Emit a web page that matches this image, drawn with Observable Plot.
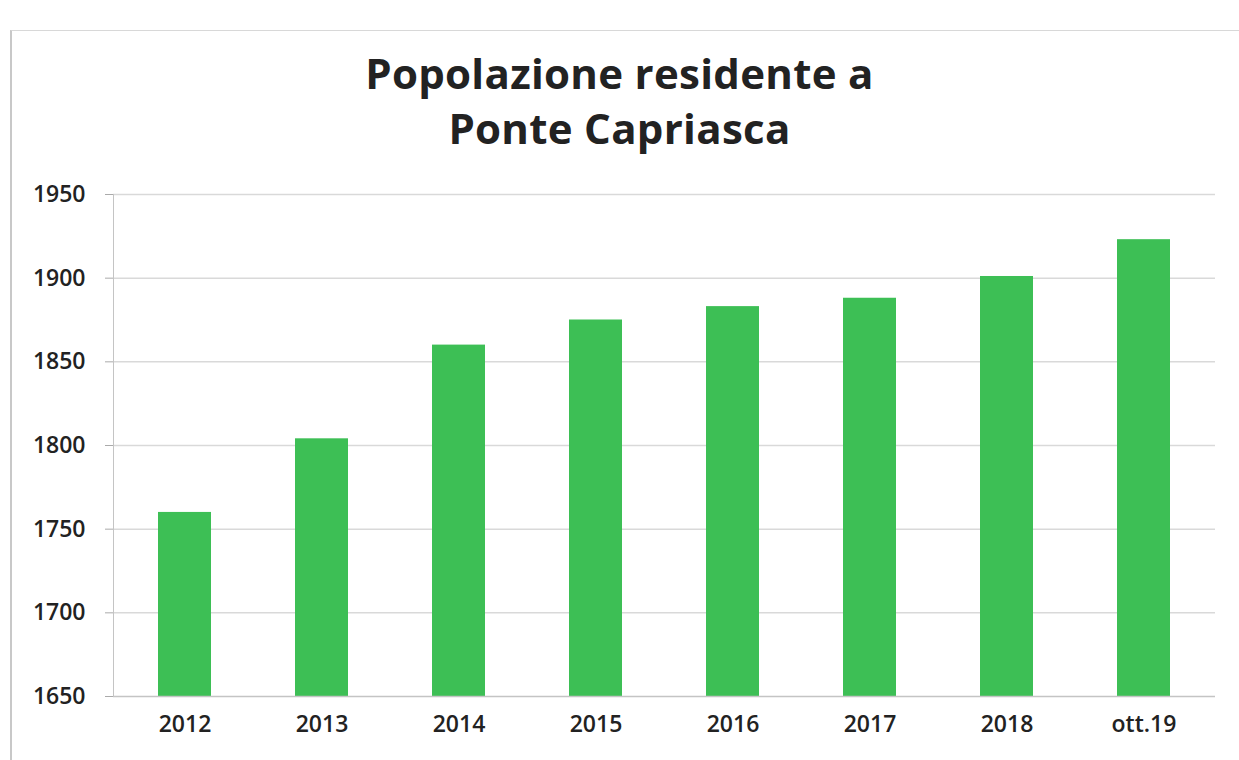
<!DOCTYPE html>
<html>
<head>
<meta charset="utf-8">
<script src="https://cdn.jsdelivr.net/npm/d3@7"></script>
<script src="https://cdn.jsdelivr.net/npm/@observablehq/plot@0.6"></script>
<style>
  html, body { margin: 0; padding: 0; background: #fff; }
  #wrap { position: relative; width: 1239px; height: 760px; overflow: hidden; font-family: "Open Sans", sans-serif; }
  #frame { position: absolute; left: 10px; top: 30px; width: 1300px; height: 800px; border-left: 2px solid #c8c8c8; border-top: 1px solid #d8d8d8; }
  #title { position: absolute; top: 45px; left: 0; width: 1239px; text-align: center; font-weight: 700; font-size: 42px; line-height: 55px; color: #222; letter-spacing: 0.3px; }
  #chart { position: absolute; top: 170px; left: 0; }
</style>
</head>
<body>
<div id="wrap">
  <div id="frame"></div>
  <div id="title">Popolazione residente a<br>Ponte Capriasca</div>
  <div id="chart"></div>
</div>
<script>
const categories = ["2012", "2013", "2014", "2015", "2016", "2017", "2018", "ott.19"];
const population = [1760, 1804, 1860, 1875, 1883, 1888, 1901, 1923];
const yTicks = [1650, 1700, 1750, 1800, 1850, 1900, 1950];

const data = categories.map((c, i) => ({category: c, value: population[i]}));

const chart = Plot.plot({
  width: 1239,
  height: 590,
  marginLeft: 113,
  marginRight: 24,
  marginTop: 24,
  marginBottom: 64,
  style: {fontFamily: "'Open Sans', sans-serif", fontSize: "23px", color: "#222", background: "transparent"},
  x: {domain: categories, paddingInner: 0.615, paddingOuter: 0.3075, label: null},
  y: {domain: [1650, 1950], label: null},
  marks: [
    Plot.ruleY(yTicks.slice(1), {stroke: "#d9d9d9", strokeWidth: 1.5}),
    Plot.barY(data, {x: "category", y1: 1650, y2: "value", fill: "#3dbf55"}),
    Plot.ruleY([1650], {stroke: "#c4c4c4", strokeWidth: 1.5}),
    Plot.frame({anchor: "left", stroke: "#c4c4c4"}),
    Plot.axisY({ticks: yTicks, tickFormat: "d", tickSize: 8, tickPadding: 20, fontWeight: 600, fontSize: 23, stroke: "#aaa"}),
    Plot.axisX({tickSize: 0, tickPadding: 19, fontWeight: 600, fontSize: 23})
  ]
});
document.getElementById("chart").appendChild(chart);
</script>
</body>
</html>
